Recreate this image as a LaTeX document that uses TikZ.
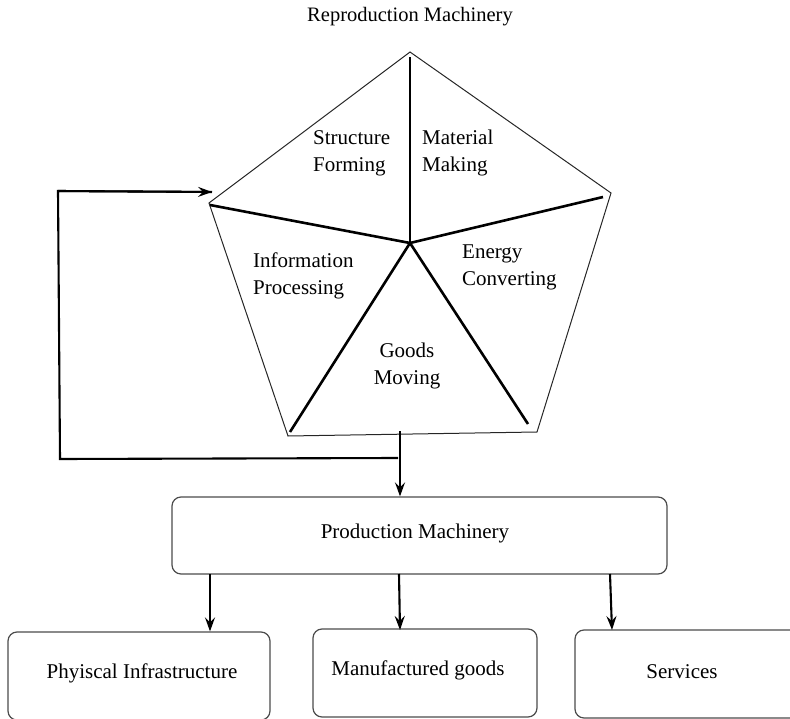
\documentclass[tikz,border=0pt]{standalone}
\usepackage{fontspec}
\setmainfont{Liberation Serif}
\newfontfamily\timesfont{Liberation Serif}
\usetikzlibrary{arrows.meta}
\begin{document}
\begin{tikzpicture}[x=1pt,y=-1pt,
  outline/.style={line width=1pt,black!85},
  spoke/.style={line width=2.6pt,black},
  box/.style={draw=black!70,line width=1.2pt,rounded corners=9pt},
  lbl/.style={font=\timesfont\fontsize{21}{27}\selectfont,align=left,inner sep=0pt},
  arr/.style={line width=2.1pt,-{Stealth[length=14pt,width=10pt,inset=5pt]}},
  plain/.style={line width=2.1pt}]
\useasboundingbox (0,0) rectangle (790,719);
% pentagon vertices
\coordinate (T) at (410,52);
\coordinate (R) at (611,193);
\coordinate (BR) at (537,432);
\coordinate (BL) at (288,436);
\coordinate (L) at (209,203);
\coordinate (C) at (410,243);
\coordinate (sT) at (410,57);
\coordinate (sR) at (603,197);
\coordinate (sBR) at (528,424);
\coordinate (sBL) at (290,432);
\coordinate (sL) at (210,205);
\draw[outline] (T) -- (R) -- (BR) -- (BL) -- (L) -- cycle;
\foreach \p in {sT,sR,sBR,sBL,sL} \draw[spoke] (C) -- (\p);
% title and labels
\node[lbl,font=\timesfont\fontsize{20.5}{26}\selectfont] (title) at (410,17) {Reproduction Machinery};
\node[lbl,anchor=west] (sf) at (313,153) {Structure\\Forming};
\node[lbl,anchor=west] (mm) at (422,153) {Material\\Making};
\node[lbl,anchor=west] (ec) at (462,267) {Energy\\Converting};
\node[lbl,anchor=west] (ip) at (253,276) {Information\\Processing};
\node[lbl,align=center] (gm) at (407,366) {Goods\\Moving};
% boxes
\node[box,minimum width=495pt,minimum height=77pt] (pm) at (419.5,535.5) {};
\node[lbl] (pmt) at (415,533) {Production Machinery};
\node[box,minimum width=262pt,minimum height=88pt] (pi) at (139,676) {};
\node[lbl] (pit) at (142,673) {Phyiscal Infrastructure};
\node[box,minimum width=224pt,minimum height=88pt] (mg) at (425,673) {};
\node[lbl] (mgt) at (418,670) {Manufactured goods};
\node[box,minimum width=240pt,minimum height=88pt] (sv) at (695,674) {};
\node[lbl] (svt) at (682,672) {Services};
% feedback loop
\coordinate (fb0) at (400,431);
\coordinate (fbj) at (398,458);
\coordinate (fbl) at (60,459);
\coordinate (fbt) at (58,191);
\coordinate (fbe) at (212,192);
\draw[arr] (fb0) -- (pm.north -| fb0);
\draw[plain] (fbj) -- (fbl) -- (fbt) -- (fbe);
\draw[arr] (fbt) -- (fbe);
% output arrows
\coordinate (o1) at (210,574);
\coordinate (o2) at (399,574);
\coordinate (o3) at (610,574);
\draw[arr] (o1) -- (pi.north -| o1);
\draw[arr] (o2) -- (400,630);
\draw[arr] (o3) -- (612,630);
\end{tikzpicture}
\end{document}
